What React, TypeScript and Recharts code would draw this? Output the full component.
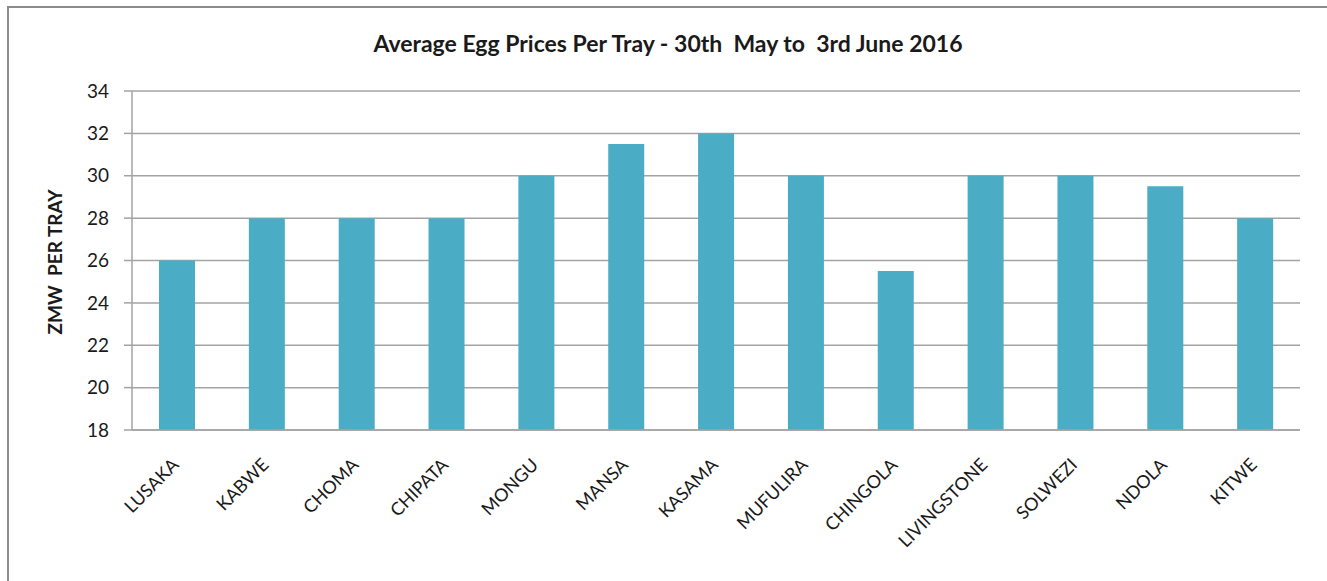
import React from "react";
import { BarChart, Bar, XAxis, YAxis, CartesianGrid } from "recharts";

const towns = [
  "LUSAKA",
  "KABWE",
  "CHOMA",
  "CHIPATA",
  "MONGU",
  "MANSA",
  "KASAMA",
  "MUFULIRA",
  "CHINGOLA",
  "LIVINGSTONE",
  "SOLWEZI",
  "NDOLA",
  "KITWE",
];
const prices = [26, 28, 28, 28, 30, 31.5, 32, 30, 25.5, 30, 30, 29.5, 28];
const priceTicks = [18, 20, 22, 24, 26, 28, 30, 32, 34];

const data = towns.map((town, i) => ({ town, price: prices[i] }));

const FONT = "Lato, 'Open Sans', sans-serif";

function TownTick(props: any) {
  const { x, y, payload } = props;
  const ax = x + 3;
  const ay = y + 28;
  return (
    <text
      x={ax}
      y={ay}
      transform={`rotate(-45, ${ax}, ${ay})`}
      textAnchor="end"
      fontSize={18}
      fontFamily={FONT}
      fill="#1a1a1a"
    >
      {payload.value}
    </text>
  );
}

export default function App() {
  return (
    <div
      style={{
        position: "fixed",
        left: 0,
        top: 0,
        width: 1327,
        height: 581,
        background: "#fff",
        overflow: "hidden",
        fontFamily: FONT,
      }}
    >
      <div
        style={{
          position: "absolute",
          left: 7,
          top: 6,
          width: 1340,
          height: 600,
          borderLeft: "2px solid #8c8c8c",
          borderTop: "2px solid #8c8c8c",
        }}
      />
      <div
        style={{
          position: "absolute",
          left: 0,
          width: 1336,
          top: 29,
          textAlign: "center",
          fontSize: 23,
          fontWeight: 700,
          color: "#1a1a1a",
        }}
      >
        Average Egg Prices Per Tray - 30th&nbsp;&nbsp;May to&nbsp;&nbsp;3rd June 2016
      </div>
      <div style={{ position: "absolute", left: 0, top: 0 }}>
        <BarChart
          width={1327}
          height={581}
          data={data}
          margin={{ top: 91, right: 27, left: 72, bottom: 31 }}
        >
          <CartesianGrid
            vertical={false}
            stroke="#a3a3a3"
            strokeWidth={1.5}
          />
          <XAxis
            dataKey="town"
            height={120}
            interval={0}
            tickLine={false}
            axisLine={{ stroke: "#a3a3a3", strokeWidth: 1.5 }}
            tick={<TownTick />}
          />
          <YAxis
            width={60}
            domain={[18, 34]}
            ticks={priceTicks}
            interval={0}
            tickSize={8}
            tickMargin={15}
            tickLine={{ stroke: "#a3a3a3", strokeWidth: 1.5 }}
            axisLine={{ stroke: "#a3a3a3", strokeWidth: 1.5 }}
            tick={{ fontSize: 19, fill: "#1a1a1a", fontFamily: FONT }}
          />
          <Bar
            dataKey="price"
            fill="#4bacc6"
            barSize={36}
            isAnimationActive={false}
          />
        </BarChart>
      </div>
      <div
        style={{
          position: "absolute",
          left: 54,
          top: 262,
          transform: "translate(-50%, -50%) rotate(-90deg)",
          whiteSpace: "nowrap",
          fontSize: 19,
          fontWeight: 700,
          color: "#1a1a1a",
        }}
      >
        ZMW&nbsp;&nbsp;PER TRAY
      </div>
    </div>
  );
}
